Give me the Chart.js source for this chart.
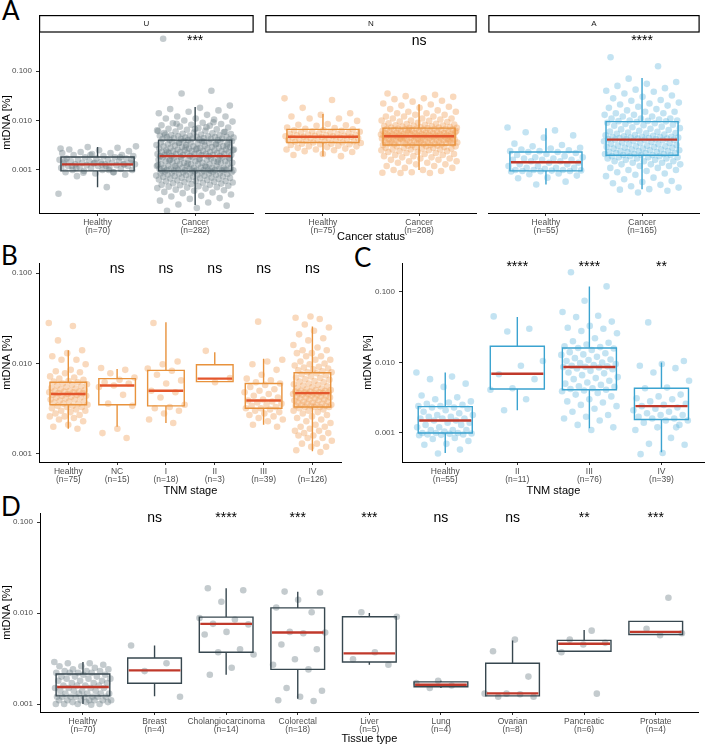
<!DOCTYPE html>
<html>
<head>
<meta charset="utf-8">
<script src="https://cdn.jsdelivr.net/npm/chart.js@4.4.1/dist/chart.umd.min.js"></script>
<style>
  body { margin: 0; width: 708px; height: 746px; position: relative; background: #fff; overflow: hidden;
         font-family: 'Liberation Sans', Arial, sans-serif; }
  .lbl { position: absolute; font-family: Lato, 'Liberation Sans', sans-serif; font-size: 26px; line-height: 26px; color: #000; }
  .wrap { position: absolute; }
</style>
</head>
<body>
<div class="lbl" style="left:2px;top:-3px">A</div>
<div class="lbl" style="left:1px;top:242px">B</div>
<div class="lbl" style="left:354px;top:244px">C</div>
<div class="lbl" style="left:1px;top:493px">D</div>

<script>
// ---- data (mtDNA %) ----
const yTicks = [0.001, 0.01, 0.1];

// panel A: facets U / N / A
const catsA = ['Healthy', 'Cancer'];
const countsU = [70, 282];
const countsN = [75, 208];
const countsAf = [55, 165];
const sigU = ['', '***'];
const sigN = ['', 'ns'];
const sigAf = ['', '****'];
// box stats per category: [lower whisker, q1, median, q3, upper whisker]
const boxU = [[0.00045, 0.00096, 0.0013, 0.00183, 0.0029], [0.000196, 0.00096, 0.0019, 0.004, 0.0187]];
const boxN = [[0.0019, 0.0036, 0.0047, 0.0066, 0.0135], [0.001, 0.0032, 0.0048, 0.007, 0.0214]];
const boxAf = [[0.00051, 0.00096, 0.00143, 0.0023, 0.007], [0.00041, 0.00198, 0.0041, 0.0095, 0.072]];

const uHealthy = [0.00033, 0.00045, 0.00075, 0.0008, 0.00085, 0.0009, 0.0009, 0.00095, 0.001, 0.001, 0.001, 0.00105,
  0.0011, 0.0011, 0.0011, 0.00115, 0.0012, 0.0012, 0.0012, 0.00125, 0.00125, 0.0013, 0.0013, 0.0013, 0.0013, 0.00135,
  0.00135, 0.0014, 0.0014, 0.0014, 0.00145, 0.0015, 0.0015, 0.0015, 0.0016, 0.0016, 0.0016, 0.0017, 0.0017, 0.0017,
  0.0018, 0.0018, 0.0019, 0.0019, 0.002, 0.002, 0.0021, 0.0022, 0.0022, 0.0023, 0.0024, 0.0025, 0.0026, 0.0028, 0.0029,
  0.003, 0.0012, 0.0011, 0.0013, 0.0014, 0.0015, 0.0009, 0.00088, 0.0016, 0.0013, 0.0012, 0.0018, 0.002, 0.0027, 0.001];
const uCancer = [0.45, 0.04, 0.035, 0.02,
  0.018, 0.017, 0.016, 0.015, 0.014, 0.013, 0.012, 0.012, 0.011, 0.011, 0.0105, 0.01,
  0.0095, 0.009, 0.0088, 0.0085, 0.0082, 0.008, 0.0078, 0.0075, 0.0072, 0.007, 0.0068, 0.0066, 0.0065, 0.0063, 0.0062,
  0.006, 0.0058, 0.0057, 0.0056, 0.0055, 0.0054, 0.0053, 0.0052, 0.0051, 0.005, 0.0049, 0.0049, 0.0048, 0.0048, 0.0047,
  0.0047, 0.0046, 0.0046, 0.0045, 0.0045, 0.0044, 0.0044, 0.0043, 0.0043, 0.0042, 0.0042, 0.0042, 0.0041, 0.0041,
  0.0041, 0.004, 0.004, 0.0061, 0.0073, 0.0086, 0.0059, 0.0067, 0.0052, 0.0092,
  0.0039, 0.0038, 0.0038, 0.0037, 0.0037, 0.0036, 0.0036, 0.0035, 0.0035, 0.0034, 0.0034, 0.0033, 0.0033, 0.0032,
  0.0032, 0.0031, 0.0031, 0.003, 0.003, 0.003, 0.0029, 0.0029, 0.0029, 0.0028, 0.0028, 0.0028, 0.0027, 0.0027, 0.0027,
  0.0026, 0.0026, 0.0026, 0.0025, 0.0025, 0.0025, 0.0025, 0.0024, 0.0024, 0.0024, 0.0024, 0.0023, 0.0023, 0.0023,
  0.0023, 0.0022, 0.0022, 0.0022, 0.0022, 0.0021, 0.0021, 0.0021, 0.0021, 0.0021, 0.002, 0.002, 0.002, 0.002, 0.002,
  0.0019, 0.0019, 0.0019, 0.0019, 0.0019, 0.0035, 0.0031, 0.0027, 0.0023, 0.0033, 0.0029, 0.0026, 0.0037,
  0.0018, 0.0018, 0.0018, 0.0018, 0.0017, 0.0017, 0.0017, 0.0017, 0.0016, 0.0016, 0.0016, 0.0016, 0.0016, 0.0015,
  0.0015, 0.0015, 0.0015, 0.0015, 0.0014, 0.0014, 0.0014, 0.0014, 0.0014, 0.0013, 0.0013, 0.0013, 0.0013, 0.0013,
  0.0013, 0.0012, 0.0012, 0.0012, 0.0012, 0.0012, 0.0012, 0.0011, 0.0011, 0.0011, 0.0011, 0.0011, 0.0011, 0.0011,
  0.00105, 0.00105, 0.00105, 0.00105, 0.001, 0.001, 0.001, 0.001, 0.001, 0.001, 0.00098, 0.00098, 0.00098, 0.00097,
  0.00097, 0.00097, 0.00096, 0.00096, 0.00185, 0.00175, 0.00165, 0.00155, 0.00145, 0.00135, 0.00125, 0.00115, 0.00108,
  0.00102,
  0.00094, 0.00093, 0.00092, 0.0009, 0.0009, 0.00089, 0.00088, 0.00087, 0.00086, 0.00085, 0.00084, 0.00083, 0.00082,
  0.0008, 0.0008, 0.00079, 0.00078, 0.00077, 0.00076, 0.00075, 0.00074, 0.00073, 0.00072, 0.0007, 0.0007, 0.00069,
  0.00068, 0.00067, 0.00066, 0.00065, 0.00064, 0.00063, 0.00062, 0.0006, 0.0006, 0.00059, 0.00058, 0.00057, 0.00056,
  0.00055, 0.00054, 0.00053, 0.00052, 0.0005, 0.0005, 0.00049, 0.00048, 0.00047, 0.00046, 0.00045, 0.00044, 0.00043,
  0.00042, 0.0004, 0.00039, 0.00038, 0.00036, 0.00035, 0.00034, 0.00032, 0.0003, 0.00029, 0.00027, 0.00026, 0.00024,
  0.00022, 0.0002, 0.00019, 0.00017, 0.00015];
// N healthy is the same group as the healthy box of panel B
const nHealthy = [0.028, 0.026, 0.018, 0.014, 0.013, 0.012, 0.011, 0.011, 0.0098, 0.0085, 0.0082, 0.008, 0.0078, 0.0072,
  0.007, 0.0068, 0.0066, 0.0064, 0.0063,
  0.0062, 0.006, 0.0059, 0.0058, 0.0057, 0.0056, 0.0055, 0.0054, 0.0053, 0.0052, 0.0051, 0.005, 0.005, 0.0049, 0.0049,
  0.0048, 0.0048, 0.0047, 0.0047,
  0.0046, 0.0045, 0.0045, 0.0044, 0.0044, 0.0043, 0.0042, 0.0042, 0.0041, 0.004, 0.004, 0.0039, 0.0038, 0.0038, 0.0037,
  0.0036, 0.0036, 0.0035,
  0.0034, 0.0034, 0.0033, 0.0033, 0.0032, 0.0031, 0.003, 0.003, 0.0029, 0.0028, 0.0027, 0.0026, 0.0026, 0.0025, 0.0024,
  0.0023, 0.0021, 0.002, 0.0019];
const nCancer = [0.035, 0.033, 0.031, 0.03, 0.028, 0.027, 0.025, 0.024, 0.022, 0.021, 0.02, 0.019, 0.018, 0.017, 0.016,
  0.015, 0.015, 0.014, 0.014, 0.013, 0.013, 0.012, 0.012, 0.012, 0.011, 0.011, 0.011, 0.0105, 0.01, 0.01, 0.0098, 0.0095,
  0.0093, 0.009, 0.0088, 0.0086, 0.0085, 0.0083, 0.0082, 0.008, 0.0079, 0.0078, 0.0077, 0.0076, 0.0075, 0.0074, 0.0073,
  0.0072, 0.0072, 0.0071, 0.0071, 0.007,
  0.0069, 0.0068, 0.0068, 0.0067, 0.0067, 0.0066, 0.0066, 0.0065, 0.0064, 0.0064, 0.0063, 0.0062, 0.0062, 0.0061, 0.006,
  0.006, 0.0059, 0.0059, 0.0058, 0.0058, 0.0057, 0.0057, 0.0056, 0.0056, 0.0055, 0.0055, 0.0054, 0.0054, 0.0054, 0.0053,
  0.0053, 0.0053, 0.0052, 0.0052, 0.0052, 0.0051, 0.0051, 0.0051, 0.005, 0.005, 0.005, 0.005, 0.0049, 0.0049, 0.0049,
  0.0049, 0.0048, 0.0048, 0.0048, 0.0048, 0.0048, 0.0048, 0.0065, 0.0061,
  0.0047, 0.0047, 0.0047, 0.0046, 0.0046, 0.0046, 0.0045, 0.0045, 0.0045, 0.0044, 0.0044, 0.0044, 0.0043, 0.0043, 0.0043,
  0.0042, 0.0042, 0.0042, 0.0041, 0.0041, 0.0041, 0.004, 0.004, 0.004, 0.0039, 0.0039, 0.0039, 0.0038, 0.0038, 0.0038,
  0.0037, 0.0037, 0.0037, 0.0036, 0.0036, 0.0036, 0.0035, 0.0035, 0.0035, 0.0034, 0.0034, 0.0034, 0.0033, 0.0033, 0.0033,
  0.0032, 0.0032, 0.0032, 0.0043, 0.0039, 0.0036, 0.0034,
  0.0031, 0.0031, 0.003, 0.003, 0.003, 0.0029, 0.0029, 0.0028, 0.0028, 0.0028, 0.0027, 0.0027, 0.0026, 0.0026, 0.0026,
  0.0025, 0.0025, 0.0024, 0.0024, 0.0023, 0.0023, 0.0022, 0.0022, 0.0021, 0.0021, 0.002, 0.002, 0.0019, 0.0019, 0.0018,
  0.0018, 0.0017, 0.0017, 0.0016, 0.0016, 0.0015, 0.0015, 0.0014, 0.0014, 0.0013, 0.0013, 0.0012, 0.0012, 0.0011, 0.0011,
  0.001, 0.001, 0.00095, 0.0009, 0.00088, 0.00087, 0.00087];
// A healthy is the same group as the healthy box of panel C
const aHealthy = [0.0072, 0.0063, 0.0058, 0.005, 0.0045, 0.0034, 0.0032, 0.003, 0.0028, 0.0027, 0.0026, 0.0025, 0.0024,
  0.0024, 0.0023, 0.0023, 0.0022, 0.0021, 0.002, 0.0019, 0.0018, 0.0018, 0.0017, 0.0017, 0.0016, 0.0016, 0.0016, 0.0015,
  0.0015, 0.0014, 0.0014, 0.0013, 0.0013, 0.0012, 0.0012, 0.0011, 0.0011, 0.0011, 0.00105, 0.001, 0.001, 0.001,
  0.00098, 0.00097, 0.00095, 0.00095, 0.00094, 0.00093, 0.00085, 0.00082, 0.00077, 0.0007, 0.00068, 0.00058, 0.00051];
const aCancer = [0.19, 0.125, 0.07, 0.06, 0.055, 0.05, 0.045, 0.042, 0.04, 0.038, 0.035, 0.032, 0.03, 0.028, 0.026, 0.025,
  0.023, 0.022, 0.021, 0.02, 0.019, 0.018, 0.017, 0.016, 0.015, 0.015, 0.014, 0.014, 0.013, 0.013, 0.012, 0.012, 0.011,
  0.011, 0.011, 0.0105, 0.01, 0.01, 0.0098, 0.0097, 0.0096,
  0.0093, 0.009, 0.0088, 0.0085, 0.0082, 0.008, 0.0078, 0.0075, 0.0073, 0.007, 0.0068, 0.0066, 0.0064, 0.0062, 0.006,
  0.0059, 0.0057, 0.0056, 0.0055, 0.0054, 0.0052, 0.0051, 0.005, 0.0049, 0.0048, 0.0047, 0.0047, 0.0046, 0.0046, 0.0045,
  0.0045, 0.0044, 0.0044, 0.0043, 0.0043, 0.0042, 0.0042, 0.0042, 0.0041, 0.0041, 0.0041,
  0.004, 0.0039, 0.0038, 0.0037, 0.0036, 0.0035, 0.0035, 0.0034, 0.0033, 0.0033, 0.0032, 0.0031, 0.0031, 0.003, 0.003,
  0.0029, 0.0029, 0.0028, 0.0028, 0.0027, 0.0027, 0.0026, 0.0026, 0.0025, 0.0025, 0.0024, 0.0024, 0.0024, 0.0023, 0.0023,
  0.0023, 0.0022, 0.0022, 0.0022, 0.0021, 0.0021, 0.0021, 0.002, 0.002, 0.002, 0.002,
  0.0019, 0.0019, 0.0019, 0.0018, 0.0018, 0.0018, 0.0017, 0.0017, 0.0017, 0.0016, 0.0016, 0.0015, 0.0015, 0.0015, 0.0014,
  0.0014, 0.0013, 0.0013, 0.0013, 0.0012, 0.0012, 0.0011, 0.0011, 0.001, 0.001, 0.00095, 0.0009, 0.00085, 0.0008, 0.00075,
  0.0007, 0.00065, 0.0006, 0.00057, 0.00054, 0.0005, 0.00047, 0.00044, 0.00041, 0.0004, 0.00038, 0.00035];

// panel B: TNM stage (N)
const catsB = ['Healthy', 'NC', 'I', 'II', 'III', 'IV'];
const countsB = [75, 15, 18, 3, 39, 126];
const sigB = ['', 'ns', 'ns', 'ns', 'ns', 'ns'];
const boxB = [[0.0019, 0.0035, 0.0046, 0.0062, 0.014], [0.002, 0.0035, 0.0057, 0.0068, 0.0087],
  [0.0022, 0.0034, 0.005, 0.0084, 0.0286], [0.0063, 0.0063, 0.0068, 0.0097, 0.0133],
  [0.0021, 0.0032, 0.0039, 0.006, 0.0113], [0.00107, 0.0033, 0.0047, 0.0079, 0.0256]];
const bNC = [0.0089, 0.0085, 0.0078, 0.007, 0.0066, 0.0062, 0.006, 0.0057, 0.0055, 0.0045, 0.0036, 0.0034, 0.0019,
  0.0017, 0.0015];
const bI = [0.028, 0.0105, 0.0098, 0.0088, 0.0083, 0.0075, 0.0065, 0.006, 0.005, 0.0048, 0.0042, 0.0035, 0.0033, 0.0032,
  0.003, 0.0028, 0.0024, 0.0022];
const bII = [0.0138, 0.0069, 0.0062];
const bIII = [0.029, 0.011, 0.0105, 0.0098, 0.0085, 0.0075, 0.0068, 0.0065, 0.0062, 0.006, 0.0058, 0.0055, 0.0052, 0.005,
  0.0048, 0.0046, 0.0044, 0.0042, 0.004, 0.0039, 0.0038, 0.0037, 0.0036, 0.0035, 0.0034, 0.0033, 0.0032, 0.0032, 0.0031,
  0.003, 0.0029, 0.0028, 0.0027, 0.0026, 0.0025, 0.0024, 0.0023, 0.0021, 0.002];
const bIV = [0.033, 0.032, 0.031, 0.027, 0.025, 0.023, 0.021, 0.019, 0.018, 0.016, 0.015, 0.014, 0.014, 0.013, 0.013,
  0.012, 0.012, 0.011, 0.011, 0.0105, 0.01, 0.0098, 0.0095, 0.0092, 0.009, 0.0088, 0.0086, 0.0084, 0.0082, 0.008, 0.008,
  0.0078, 0.0076, 0.0074, 0.0072, 0.007, 0.0069, 0.0067, 0.0066, 0.0064, 0.0063, 0.0062, 0.006, 0.0059, 0.0058, 0.0057,
  0.0056, 0.0055, 0.0054, 0.0053, 0.0052, 0.0051, 0.0051, 0.005, 0.005, 0.0049, 0.0049, 0.0048, 0.0048, 0.0048, 0.0047,
  0.0047, 0.0047,
  0.0046, 0.0046, 0.0045, 0.0045, 0.0044, 0.0044, 0.0043, 0.0043, 0.0042, 0.0042, 0.0041, 0.0041, 0.004, 0.004, 0.0039,
  0.0039, 0.0038, 0.0038, 0.0037, 0.0037, 0.0036, 0.0036, 0.0035, 0.0035, 0.0035, 0.0034, 0.0034, 0.0034, 0.0033, 0.0033,
  0.0033, 0.0033,
  0.0032, 0.0031, 0.003, 0.003, 0.0029, 0.0028, 0.0027, 0.0026, 0.0025, 0.0024, 0.0023, 0.0022, 0.0021, 0.002, 0.002,
  0.0019, 0.0018, 0.0018, 0.0017, 0.0017, 0.0016, 0.0016, 0.0015, 0.0015, 0.0014, 0.0013, 0.0013, 0.0012, 0.0012, 0.0011,
  0.00105];

// panel C: TNM stage (A)
const catsC = ['Healthy', 'II', 'III', 'IV'];
const countsC = [55, 11, 76, 39];
const sigC = ['', '****', '****', '**'];
const boxC = [[0.00052, 0.001, 0.0015, 0.00236, 0.0072], [0.0021, 0.0042, 0.0069, 0.017, 0.044],
  [0.00117, 0.0041, 0.0086, 0.016, 0.12], [0.00053, 0.00155, 0.0024, 0.0043, 0.01]];
const cII = [0.045, 0.03, 0.0275, 0.0105, 0.009, 0.0068, 0.0058, 0.0043, 0.0041, 0.003, 0.0021];
const cIII = [0.19, 0.12, 0.075, 0.052, 0.046, 0.044, 0.038, 0.033, 0.031, 0.03, 0.028, 0.026, 0.022, 0.02, 0.019, 0.018,
  0.017, 0.0165, 0.016,
  0.0158, 0.015, 0.014, 0.0135, 0.013, 0.0128, 0.012, 0.0115, 0.011, 0.0108, 0.0105, 0.01, 0.0098, 0.0095, 0.0092, 0.009,
  0.0088, 0.0087, 0.0086,
  0.0085, 0.0082, 0.008, 0.0076, 0.0072, 0.007, 0.0066, 0.0062, 0.006, 0.0058, 0.0055, 0.0052, 0.005, 0.0048, 0.0046,
  0.0045, 0.0043, 0.0042, 0.0041,
  0.004, 0.0039, 0.0037, 0.0035, 0.0033, 0.003, 0.0028, 0.0027, 0.0025, 0.0024, 0.0022, 0.002, 0.0018, 0.0017, 0.0016,
  0.0015, 0.0013, 0.0012, 0.0011];
const cIV = [0.037, 0.0105, 0.0095, 0.009, 0.0083, 0.0072, 0.0055, 0.0044, 0.0043, 0.0035, 0.0033, 0.0031, 0.003, 0.0028,
  0.0026, 0.0025, 0.0024, 0.0023, 0.0022, 0.0021, 0.002, 0.0019, 0.0018, 0.0018, 0.0017, 0.0016, 0.0016, 0.0015, 0.0015,
  0.0014, 0.0013, 0.0012, 0.0011, 0.00085, 0.0007, 0.00068, 0.00052, 0.0005, 0.0012];

// panel D: tissue type
const catsD = ['Healthy', 'Breast', 'Cholangiocarcinoma', 'Colorectal', 'Liver', 'Lung', 'Ovarian', 'Pancreatic', 'Prostate'];
const countsD = [70, 4, 14, 18, 5, 4, 8, 6, 4];
const sigD = ['', 'ns', '****', '***', '***', 'ns', 'ns', '**', '***'];
const boxD = [[0.001, 0.00123, 0.00154, 0.00214, 0.0029], [0.00122, 0.00169, 0.00234, 0.0032, 0.0044],
  [0.0021, 0.0037, 0.0076, 0.009, 0.0187], [0.00114, 0.0024, 0.0061, 0.0114, 0.0171],
  [0.0027, 0.0029, 0.0036, 0.0091, 0.01], [0.0015, 0.00155, 0.00163, 0.00175, 0.0018],
  [0.00123, 0.00123, 0.00131, 0.0028, 0.005], [0.0038, 0.0038, 0.0046, 0.005, 0.0065],
  [0.0058, 0.0058, 0.0062, 0.0081, 0.0081]];
const dHealthy = [0.0029, 0.0028, 0.0028, 0.0027, 0.0026, 0.0026, 0.0025, 0.0024, 0.0024, 0.0023, 0.0023, 0.0023, 0.0022,
  0.0022, 0.0022, 0.0022, 0.0021,
  0.0021, 0.002, 0.002, 0.002, 0.0019, 0.0019, 0.0019, 0.0018, 0.0018, 0.0018, 0.0017, 0.0017, 0.0017, 0.0016, 0.0016,
  0.0016, 0.0016, 0.0015,
  0.0015, 0.0015, 0.0015, 0.0014, 0.0014, 0.0014, 0.0014, 0.0013, 0.0013, 0.0013, 0.0013, 0.0013, 0.0012, 0.0012, 0.0012,
  0.0012, 0.0012, 0.0012,
  0.0012, 0.0012, 0.0011, 0.0011, 0.0011, 0.0011, 0.0011, 0.0011, 0.0011, 0.00105, 0.00105, 0.00105, 0.001, 0.001, 0.001,
  0.001, 0.00098];
const dBreast = [0.0044, 0.0028, 0.0023, 0.0012];
const dChol = [0.0187, 0.0178, 0.0133, 0.0088, 0.0085, 0.0076, 0.0075, 0.0062, 0.0058, 0.004, 0.0037, 0.0035, 0.0025, 0.0021];
const dColo = [0.0172, 0.0168, 0.014, 0.0115, 0.0102, 0.0062, 0.0061, 0.006, 0.0045, 0.004, 0.0031, 0.0027, 0.0024,
  0.0015, 0.0014, 0.0012, 0.0011, 0.00108];
const dLiver = [0.0102, 0.0091, 0.0037, 0.0031, 0.0027];
const dLung = [0.0018, 0.0017, 0.0016, 0.0015];
const dOvar = [0.0051, 0.0038, 0.002, 0.0013, 0.0013, 0.00128, 0.0012, 0.0012];
const dPanc = [0.0064, 0.0051, 0.0047, 0.0045, 0.0037, 0.0013];
const dProst = [0.0147, 0.0067, 0.006, 0.0057];

// ---- drawing ----
const font = "'Liberation Sans', Arial, sans-serif";
const grayC = { line: '#37474f', point: 'rgba(108,124,132,0.4)', median: '#c0392b' };
const orangeC = { line: '#e8923c', point: 'rgba(240,160,90,0.4)', median: '#e4562c' };
const blueC = { line: '#3ba3d0', point: 'rgba(88,178,220,0.36)', median: '#c0392b' };

// spread points sideways like geom_jitter (width 0.4)
const jit = k => ((k * 0.6180339887) % 1 - 0.5) * 0.8;

function boxPlugin(cfg) {
  return {
    id: 'boxes',
    afterDatasetsDraw(chart) {
      const { ctx, chartArea: a, scales: { x, y } } = chart;
      ctx.save();
      cfg.stats.forEach((s, i) => {
        const xc = x.getPixelForValue(i);
        const xl = x.getPixelForValue(i - 0.375);
        const xr = x.getPixelForValue(i + 0.375);
        const [lo, q1, md, q3, hi] = s.map(v => y.getPixelForValue(v));
        ctx.strokeStyle = cfg.col.line;
        ctx.lineWidth = 1.4;
        ctx.beginPath();
        ctx.moveTo(xc, hi); ctx.lineTo(xc, q3);
        ctx.moveTo(xc, q1); ctx.lineTo(xc, lo);
        ctx.rect(xl, q3, xr - xl, q1 - q3);
        ctx.stroke();
        ctx.strokeStyle = cfg.col.median;
        ctx.lineWidth = 2.4;
        ctx.beginPath(); ctx.moveTo(xl + 1, md); ctx.lineTo(xr - 1, md); ctx.stroke();
      });
      ctx.fillStyle = '#000';
      ctx.font = '14px ' + font;
      ctx.textAlign = 'center';
      ctx.textBaseline = 'alphabetic';
      cfg.sig.forEach((t, i) => {
        if (t) ctx.fillText(t, x.getPixelForValue(i), y.getPixelForValue(cfg.sigY));
      });
      if (cfg.strip) {
        ctx.fillStyle = '#fff';
        ctx.fillRect(a.left, 15, a.right - a.left, 17);
        ctx.strokeStyle = '#000';
        ctx.lineWidth = 1.2;
        ctx.strokeRect(a.left + 0.6, 15.6, a.right - a.left - 1.2, 16.4);
        ctx.fillStyle = '#1a1a1a';
        ctx.font = '8px ' + font;
        ctx.textBaseline = 'middle';
        ctx.fillText(cfg.strip, (a.left + a.right) / 2, 24);
      }
      ctx.restore();
    }
  };
}

function makePanel(cfg) {
  const wrap = document.createElement('div');
  wrap.className = 'wrap';
  wrap.style.left = cfg.left + 'px';
  wrap.style.top = cfg.top + 'px';
  const canvas = document.createElement('canvas');
  canvas.width = cfg.w;
  canvas.height = cfg.h;
  canvas.style.width = cfg.w + 'px';
  canvas.style.height = cfg.h + 'px';
  wrap.appendChild(canvas);
  document.body.appendChild(wrap);

  const pts = cfg.groups.map((g, i) => g.map((v, k) => ({ x: i + jit(k + 5 * i), y: v }))).flat();

  return new Chart(canvas, {
    type: 'scatter',
    data: {
      datasets: [{
        data: pts,
        backgroundColor: cfg.col.point,
        borderWidth: 0,
        pointRadius: 3.3,
        pointHoverRadius: 3.3
      }]
    },
    options: {
      responsive: false,
      animation: false,
      events: [],
      layout: { padding: { top: cfg.padTop, left: 0, right: 0, bottom: 0 } },
      plugins: { legend: { display: false }, tooltip: { enabled: false } },
      scales: {
        x: {
          type: 'linear',
          min: -0.6,
          max: cfg.cats.length - 0.4,
          afterBuildTicks: s => { s.ticks = cfg.cats.map((c, i) => ({ value: i })); },
          afterFit: s => { s.height = cfg.xH; },
          ticks: {
            autoSkip: false, maxRotation: 0, minRotation: 0, padding: 2, color: '#4d4d4d',
            font: { family: font, size: 8.5, lineHeight: 1 },
            callback: v => [cfg.cats[Math.round(v)], '(n=' + cfg.counts[Math.round(v)] + ')']
          },
          grid: { drawOnChartArea: false, tickLength: 3, color: '#333' },
          border: { color: '#000', width: 1 },
          title: { display: !!cfg.xTitle, text: cfg.xTitle || '', color: '#000', font: { family: font, size: 11 }, padding: 0 }
        },
        y: {
          type: 'logarithmic',
          display: cfg.showY,
          min: cfg.yMin,
          max: cfg.yMax,
          afterBuildTicks: s => { s.ticks = yTicks.map(v => ({ value: v })); },
          afterFit: s => { s.width = cfg.showY ? cfg.yW : 0; },
          ticks: { padding: 4, color: '#4d4d4d', font: { family: font, size: 8 }, callback: v => Number(v).toFixed(3) },
          grid: { drawOnChartArea: false, tickLength: 3, color: '#333' },
          border: { color: '#000', width: 1 },
          title: { display: true, text: 'mtDNA [%]', color: '#000', font: { family: font, size: 11 }, padding: 0 }
        }
      }
    },
    plugins: [boxPlugin(cfg)]
  });
}

const rowA = { top: 0, h: 244, padTop: 32, xH: 31, yMin: 1.35e-4, yMax: 0.614, sigY: 0.33, cats: catsA };
makePanel({ ...rowA, left: 0, w: 257, yW: 39, showY: true, counts: countsU, groups: [uHealthy, uCancer], stats: boxU,
  col: grayC, sig: sigU, strip: 'U' });
// the facet title of panel A sits under the middle facet
makePanel({ ...rowA, left: 262, w: 218, yW: 0, showY: false, counts: countsN, groups: [nHealthy, nCancer], stats: boxN,
  col: orangeC, sig: sigN, strip: 'N', xTitle: 'Cancer status' });
makePanel({ ...rowA, left: 485, w: 218, yW: 0, showY: false, counts: countsAf, groups: [aHealthy, aCancer], stats: boxAf,
  col: blueC, sig: sigAf, strip: 'A' });

makePanel({ left: 0, top: 240, w: 345, h: 258, padTop: 23, xH: 36, yW: 39, showY: true, yMin: 8.15e-4, yMax: 0.129,
  sigY: 0.1, cats: catsB, counts: countsB, groups: [nHealthy, bNC, bI, bII, bIII, bIV], stats: boxB, col: orangeC,
  sig: sigB, xTitle: 'TNM stage' });

makePanel({ left: 361, top: 240, w: 347, h: 258, padTop: 23, xH: 36, yW: 41, showY: true, yMin: 3.87e-4, yMax: 0.2576,
  sigY: 0.2, cats: catsC, counts: countsC, groups: [aHealthy, cII, cIII, cIV], stats: boxC, col: blueC, sig: sigC,
  xTitle: 'TNM stage' });

makePanel({ left: 0, top: 490, w: 702, h: 256, padTop: 23, xH: 34, yW: 40, showY: true, yMin: 8.17e-4, yMax: 0.1256,
  sigY: 0.1, cats: catsD, counts: countsD,
  groups: [dHealthy, dBreast, dChol, dColo, dLiver, dLung, dOvar, dPanc, dProst], stats: boxD, col: grayC, sig: sigD,
  xTitle: 'Tissue type' });
</script>
</body>
</html>
